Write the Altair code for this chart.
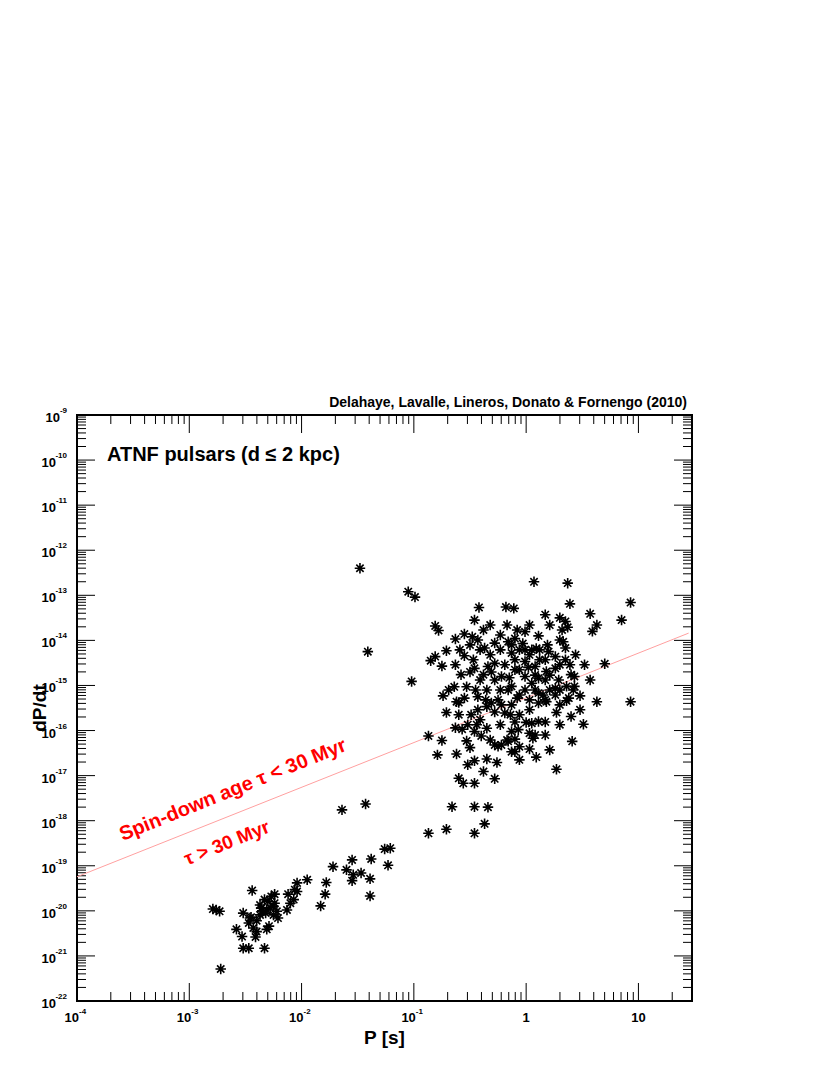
import altair as alt
import pandas as pd

# Values, stored as (log10 P [s], log10 dP/dt)
young_pulsars = [
    (-1.48, -12.40), (-1.05, -12.92), (-0.99, -13.04), (0.07, -12.70), (0.37, -12.73),
    (0.39, -13.19), (0.93, -13.16), (-0.42, -13.27), (-0.18, -13.26), (-0.11, -13.29),
    (0.57, -13.41), (0.85, -13.55), (0.63, -13.66), (0.35, -13.58), (-0.81, -13.68),
    (-0.17, -13.66), (-0.78, -13.78), (-0.08, -13.77), (-0.38, -13.77), (0.11, -13.90),
    (-1.41, -14.25), (-1.02, -14.91), (-0.71, -14.23), (-0.81, -14.36), (-0.85, -14.45),
    (-0.75, -14.57), (-0.63, -13.97), (-0.55, -13.86), (-0.48, -13.92), (-0.43, -13.99),
    (0.59, -13.80), (0.37, -13.71), (0.32, -13.77), (0.30, -13.99), (0.33, -14.03),
    (-0.55, -14.34), (-0.41, -14.21), (-0.28, -14.06), (-0.16, -14.03), (-0.13, -14.28),
    (-0.46, -14.62), (-0.58, -14.76), (-0.64, -15.03), (-0.53, -15.03), (-0.69, -15.10),
    (-0.74, -15.23), (-0.55, -15.28), (-0.38, -14.76), (-0.35, -15.10), (-0.28, -14.51),
    (-0.22, -14.80), (-0.16, -15.10), (-0.25, -15.32), (-0.43, -15.25), (-0.62, -15.36),
    (-0.47, -14.43), (-0.34, -14.58), (-0.60, -15.38), (-0.71, -15.60), (-0.60, -15.65),
    (-0.49, -15.65), (-0.43, -15.54), (-0.35, -15.47), (-0.31, -15.39), (-0.22, -15.43),
    (-0.19, -15.61), (-0.14, -15.65), (-0.87, -16.12), (-0.75, -16.22), (-0.57, -15.97),
    (-0.53, -16.23), (-0.46, -16.02), (-0.44, -15.87), (-0.40, -16.12), (-0.35, -15.95),
    (-0.28, -16.32), (-0.25, -16.35), (-0.22, -16.32), (-0.17, -16.21), (-0.13, -16.47),
    (-0.79, -16.54), (-0.62, -16.52), (-0.52, -16.76), (-0.46, -16.67), (-0.35, -16.63),
    (-0.26, -16.71), (-0.38, -16.91), (-0.28, -17.07), (-0.60, -17.06), (-0.56, -17.17),
    (-0.46, -17.17), (-0.66, -17.69), (-0.46, -17.69), (-0.34, -17.70), (-0.87, -18.28),
    (-0.71, -18.19), (-0.46, -18.28), (-0.37, -18.07), (-0.10, -13.96), (-0.03, -14.07),
    (0.09, -14.18), (0.20, -14.25), (0.26, -14.36), (0.35, -14.43), (0.39, -14.54),
    (0.70, -14.52), (0.40, -14.76), (0.43, -14.80), (0.36, -15.02), (0.42, -15.10),
    (0.48, -15.23), (0.38, -15.28), (0.63, -15.36), (0.26, -15.06), (-0.01, -14.47),
    (0.08, -14.58), (0.17, -14.43), (0.18, -14.69), (0.11, -14.84), (-0.01, -14.80),
    (-0.10, -14.65), (-0.13, -15.02), (-0.01, -15.10), (0.11, -15.17), (0.21, -15.10),
    (0.17, -15.32), (-0.08, -15.28), (0.26, -14.62), (0.29, -14.88), (0.05, -14.95),
    (0.27, -15.60), (0.40, -15.69), (0.51, -15.86), (0.41, -16.24), (0.27, -16.86),
    (0.09, -16.59), (0.03, -16.41), (-0.10, -16.47), (-0.06, -16.36), (-0.16, -16.24),
    (-0.10, -16.19), (-0.13, -16.02), (-0.07, -15.98), (0.03, -16.06), (0.08, -16.10),
    (0.06, -16.17), (-0.06, -15.65), (0.03, -15.54), (0.00, -15.82), (0.05, -15.84),
    (0.11, -15.80), (0.11, -15.39), (0.18, -15.36), (0.36, -15.34), (0.93, -15.36),
    (0.43, -15.02), (-0.06, -14.21), (0.03, -14.32), (0.12, -14.43), (0.02, -14.60),
    (0.17, -14.88), (0.08, -15.10), (-0.06, -15.21), (-0.19, -14.54), (-0.28, -14.88),
    (-0.32, -14.32), (-0.10, -14.43), (0.21, -14.77), (0.30, -14.54), (0.12, -14.21),
    (-0.01, -14.21), (0.26, -15.21), (0.30, -15.43), (-0.36, -15.32), (-0.45, -15.10),
    (-0.23, -15.10),
    (-0.50, -14.10), (-0.37, -14.17), (-0.23, -14.21), (-0.13, -14.10), (0.05, -14.21),
    (0.19, -14.10), (0.35, -14.17), (0.44, -14.32), (0.52, -14.54), (0.57, -14.88),
    (0.48, -15.54), (-0.50, -14.70), (-0.41, -14.88), (-0.31, -14.70), (-0.15, -14.83),
    (-0.06, -14.65), (0.08, -14.77), (0.30, -15.10), (0.15, -15.21), (0.03, -15.32),
    (-0.13, -15.43), (-0.28, -15.59), (-0.41, -15.76), (-0.52, -15.87), (-0.63, -15.94),
    (-0.23, -15.87), (-0.10, -15.81), (0.17, -15.81), (0.30, -15.87), (-0.06, -16.65),
    (0.17, -16.10), (0.21, -16.43), (-0.32, -16.21), (-0.50, -16.38), (-0.63, -14.54),
    (-0.59, -14.21), (-0.23, -13.88), (-0.01, -13.81), (0.21, -13.66), (0.30, -13.50),
    (0.17, -13.43), (0.03, -13.66), (-0.32, -13.66), (-0.46, -13.55),
]

intermediate_pulsars = [
    (-1.26, -18.63), (-1.21, -18.61), (-1.23, -18.99), (-1.64, -17.76), (-1.43, -17.63),
    (-1.38, -18.85), (-1.55, -18.87), (-1.72, -19.02), (-1.60, -19.09), (-1.55, -19.33),
    (-1.54, -19.20), (-1.47, -19.16), (-1.39, -19.29), (-1.39, -19.67), (-1.95, -19.31),
    (-2.04, -19.38), (-1.78, -19.37), (-1.79, -19.63), (-1.83, -19.89), (-2.12, -19.63),
    (-2.04, -19.57), (-2.07, -19.75), (-2.13, -19.98), (-2.06, -19.53), (-2.10, -19.83),
]

millisecond_pulsars = [
    (-2.44, -19.55), (-2.58, -20.41), (-2.53, -20.57), (-2.52, -20.83), (-2.47, -20.83),
    (-2.41, -20.58), (-2.33, -20.83), (-2.72, -21.29), (-2.79, -19.96), (-2.76, -19.98),
    (-2.73, -20.01), (-2.52, -20.05), (-2.45, -20.14), (-2.47, -20.27), (-2.43, -20.38),
    (-2.37, -20.09), (-2.31, -19.98), (-2.25, -19.90), (-2.30, -19.79), (-2.33, -19.75),
    (-2.27, -19.68), (-2.24, -19.83), (-2.22, -20.01), (-2.21, -20.16), (-2.29, -20.34),
    (-2.31, -20.41), (-2.40, -20.22), (-2.36, -19.94), (-2.25, -20.09), (-2.46, -20.16),
    (-2.40, -20.46), (-2.24, -19.63), (-2.37, -19.87), (-2.35, -20.00), (-2.32, -20.05),
    (-2.28, -19.93),
]

# tau = 30 Myr spin-down line (end points)
line_period = [1e-4, 28.0]
line_pdot = [5.7e-20, 1.45e-14]

# axis tick labels
x_power_values = [1e-4, 1e-3, 1e-2, 1e-1]
x_power_exps = ["-4", "-3", "-2", "-1"]
x_plain_values = [1, 10]
x_plain_labels = ["1", "10"]
y_exponents = list(range(-22, -8))
y_tick_values = [10.0 ** e for e in y_exponents]

x_major = x_power_values + x_plain_values
x_minor = [k * 10.0 ** e for e in range(-4, 2) for k in range(2, 10) if k * 10.0 ** e < 29]
y_minor = [k * 10.0 ** e for e in range(-22, -9) for k in range(2, 10)]

W, H = 615, 586
FONT = "Liberation Sans"

rows = []
for grp in (young_pulsars, intermediate_pulsars, millisecond_pulsars):
    for lp, lpd in grp:
        rows.append({"P": 10.0 ** lp, "Pdot": 10.0 ** lpd})
pts = pd.DataFrame(rows)

xscale = alt.Scale(type="log", domain=[1e-4, 30], nice=False)
yscale = alt.Scale(type="log", domain=[1e-22, 1e-9], nice=False)

X = lambda f: alt.X(f, type="quantitative", scale=xscale, axis=None)
Y = lambda f: alt.Y(f, type="quantitative", scale=yscale, axis=None)

xmaj_df = pd.DataFrame({"v": x_major})
xmin_df = pd.DataFrame({"v": x_minor})
ymaj_df = pd.DataFrame({"v": y_tick_values})
ymin_df = pd.DataFrame({"v": y_minor})


def rule(df):
    return alt.Chart(df).mark_rule(color="black", strokeWidth=1)


ticks = [
    rule(xmaj_df).encode(x=X("v"), y=alt.value(H), y2=alt.value(H - 18)),
    rule(xmin_df).encode(x=X("v"), y=alt.value(H), y2=alt.value(H - 9)),
    rule(xmaj_df).encode(x=X("v"), y=alt.value(0), y2=alt.value(18)),
    rule(xmin_df).encode(x=X("v"), y=alt.value(0), y2=alt.value(9)),
    rule(ymaj_df).encode(y=Y("v"), x=alt.value(0), x2=alt.value(18)),
    rule(ymin_df).encode(y=Y("v"), x=alt.value(0), x2=alt.value(9)),
    rule(ymaj_df).encode(y=Y("v"), x=alt.value(W), x2=alt.value(W - 18)),
    rule(ymin_df).encode(y=Y("v"), x=alt.value(W), x2=alt.value(W - 9)),
]


def txt(size, **kw):
    return dict(font=FONT, fontWeight="bold", fontSize=size, color="black", **kw)


# x tick labels: "10" + raised exponent
xp_df = pd.DataFrame({"v": x_power_values, "b": ["10"] * 4, "e": x_power_exps})
xq_df = pd.DataFrame({"v": x_plain_values, "b": x_plain_labels})
# y tick labels
y_df = pd.DataFrame({"v": y_tick_values, "b": ["10"] * len(y_exponents),
                     "e": [str(e) for e in y_exponents], "n": [len(str(e)) for e in y_exponents]})

labels = [
    alt.Chart(xp_df).mark_text(**txt(13, align="right", baseline="middle", dx=2)).encode(
        x=X("v"), y=alt.value(H + 17), text="b:N"),
    alt.Chart(xp_df).mark_text(**txt(8, align="left", baseline="middle", dx=2)).encode(
        x=X("v"), y=alt.value(H + 11), text="e:N"),
    alt.Chart(xq_df).mark_text(**txt(13, align="center", baseline="middle")).encode(
        x=X("v"), y=alt.value(H + 17), text="b:N"),
    alt.Chart(y_df).transform_filter("datum.n == 2").mark_text(
        **txt(13, align="right", baseline="middle", dy=3)).encode(
        y=Y("v"), x=alt.value(-17), text="b:N"),
    alt.Chart(y_df).transform_filter("datum.n == 3").mark_text(
        **txt(13, align="right", baseline="middle", dy=3)).encode(
        y=Y("v"), x=alt.value(-21), text="b:N"),
    alt.Chart(y_df).mark_text(**txt(8, align="right", baseline="middle", dy=-4)).encode(
        y=Y("v"), x=alt.value(-10), text="e:N"),
]

line = alt.Chart(pd.DataFrame({"P": line_period, "Pdot": line_pdot})).mark_line(
    color="#ffa0a0", strokeWidth=1).encode(x=X("P"), y=Y("Pdot"))

asterisk = "M-1,0L1,0M0,-1L0,1M-0.7,-0.7L0.7,0.7M-0.7,0.7L0.7,-0.7"
points = alt.Chart(pts).mark_point(shape=asterisk, filled=False, size=110, strokeWidth=1.6,
                                   color="black", opacity=1).encode(x=X("P"), y=Y("Pdot"))


def label(text, x, y, size, align="center", baseline="middle", color="black", angle=0):
    kw = dict(font=FONT, fontWeight="bold", fontSize=size, align=align, baseline=baseline, color=color)
    if angle:
        kw["angle"] = angle
    return alt.Chart(pd.DataFrame({"t": [text]})).mark_text(**kw).encode(
        text="t:N", x=alt.value(x), y=alt.value(y))


texts = [
    label("Delahaye, Lavalle, Lineros, Donato & Fornengo (2010)", W - 5, -8, 14,
          align="right", baseline="alphabetic"),
    label("ATNF pulsars (d \u2264 2 kpc)", 30, 46, 20, align="left", baseline="alphabetic"),
    label("Spin-down age \u03c4 < 30 Myr", 156, 375, 20, color="#ff0000", angle=338),
    label("\u03c4 > 30 Myr", 150, 428, 19, color="#ff0000", angle=338),
    label("P [s]", W / 2, H + 37, 19),
    label("dP/dt", -37, H / 2, 19, angle=270),
]

chart = alt.layer(*ticks, line, points, *labels, *texts).properties(
    width=W, height=H,
    padding={"left": 69, "top": 407, "right": 40, "bottom": 70},
    autosize=alt.AutoSizeParams(type="none"),
).configure_view(stroke="black", strokeWidth=2)

chart.save("out.html", embed_options={"renderer": "svg", "actions": False})
